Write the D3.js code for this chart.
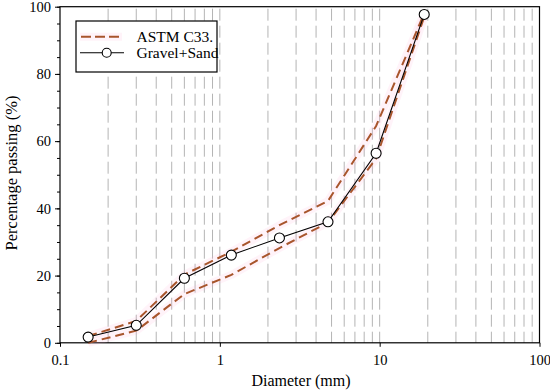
<!DOCTYPE html>
<html><head><meta charset="utf-8">
<script src="https://cdn.jsdelivr.net/npm/d3@7"></script>
<style>body{margin:0;background:#fff}svg{display:block}</style>
</head><body><svg id="c" width="550" height="391"></svg>
<script>
const sieves = [0.15, 0.3, 0.6, 1.18, 2.36, 4.75, 9.5, 19];
const gravelSand = [1.7, 5.2, 19.2, 26.1, 31.2, 36, 56.4, 97.7];
const astmUpper = [2, 6.5, 20.3, 27.1, 35, 42.2, 64.5, 98];
const astmLower = [0, 3.6, 14.5, 20.2, 28.2, 35.8, 54.8, 97];
const xTicks = [0.1, 1, 10, 100];
const xTickLabels = ["0.1", "1", "10", "100"];
const yTicks = [0, 20, 40, 60, 80, 100];
const seriesNames = ["ASTM C33.", "Gravel+Sand"];

const svg = d3.select("#c");
const L = 60, R = 539.5, T = 6.7, B = 342.8;
const x = d3.scaleLog().domain([0.1, 100]).range([L, R]);
const y = d3.scaleLinear().domain([0, 100]).range([B, T]);
const font = "'Liberation Serif','Times New Roman',Times,serif";

// grid
const grid = [];
[0.1, 1, 10].forEach(d => { for (let k = 2; k <= 10; k++) grid.push(+(d * k).toPrecision(3)); });
svg.append("g").selectAll("line").data(grid.filter(v => v < 100)).join("line")
  .attr("x1", d => x(d)).attr("x2", d => x(d)).attr("y1", T + 2).attr("y2", B)
  .attr("stroke", "#b4b4b4").attr("stroke-width", 1).attr("stroke-dasharray", "12,5");

// axes
const xAxis = d3.axisBottom(x).tickValues(xTicks).tickFormat((d,i) => xTickLabels[i]).tickSizeOuter(0).tickSize(4);
const gx = svg.append("g").attr("transform", `translate(0,${B})`).call(xAxis);
gx.select(".domain").remove();
gx.selectAll("text").attr("font-family", font).attr("font-size", 14.5).attr("fill", "#000").attr("dy", "1.05em");
gx.selectAll("line").attr("stroke", "#000");

const yAxisMinor = d3.axisLeft(y).tickValues(d3.range(0, 101, 5)).tickFormat("").tickSize(3).tickSizeOuter(0);
const gy2 = svg.append("g").attr("transform", `translate(${L},0)`).call(yAxisMinor);
gy2.select(".domain").remove();
gy2.selectAll("line").attr("stroke", "#000");
const yAxis = d3.axisLeft(y).tickValues(yTicks).tickSize(5).tickPadding(4).tickSizeOuter(0);
const gy = svg.append("g").attr("transform", `translate(${L},0)`).call(yAxis);
gy.select(".domain").remove();
gy.selectAll("text").attr("font-family", font).attr("font-size", 14.5).attr("fill", "#000");
gy.selectAll("line").attr("stroke", "#000");

// frame
svg.append("rect").attr("x", L).attr("y", T).attr("width", R - L).attr("height", B - T)
  .attr("fill", "none").attr("stroke", "#000").attr("stroke-width", 1.2);

// ASTM lines
const line = vals => d3.line().x((d,i) => x(sieves[i])).y(d => y(d))(vals);
const red = "#a8552c";
[astmUpper, astmLower].forEach(v => {
  svg.append("path").attr("d", line(v)).attr("fill", "none").attr("stroke", "#ffa8d8")
    .attr("stroke-opacity", 0.14).attr("stroke-width", 8).attr("stroke-linejoin", "round");
});
[astmUpper, astmLower].forEach(v => {
  svg.append("path").attr("d", line(v)).attr("fill", "none").attr("stroke", red)
    .attr("stroke-width", 2).attr("stroke-dasharray", "9,5");
});

// Gravel+Sand
svg.append("path").attr("d", line(gravelSand)).attr("fill", "none").attr("stroke", "#000").attr("stroke-width", 1.1);
svg.append("g").selectAll("circle").data(gravelSand).join("circle")
  .attr("cx", (d,i) => x(sieves[i])).attr("cy", d => y(d)).attr("r", 5)
  .attr("fill", "#fff").attr("stroke", "#000").attr("stroke-width", 1.1);

// legend
const lg = svg.append("g");
lg.append("rect").attr("x", 76).attr("y", 21).attr("width", 141).attr("height", 51)
  .attr("fill", "#fff").attr("stroke", "#000").attr("stroke-width", 1.2);
lg.append("line").attr("x1", 80).attr("x2", 122).attr("y1", 36.7).attr("y2", 36.7)
  .attr("stroke", "#ffa8d8").attr("stroke-opacity", 0.14).attr("stroke-width", 8);
lg.append("line").attr("x1", 81).attr("x2", 122).attr("y1", 36.7).attr("y2", 36.7)
  .attr("stroke", red).attr("stroke-width", 2).attr("stroke-dasharray", "10,4");
lg.append("line").attr("x1", 80).attr("x2", 124).attr("y1", 52.7).attr("y2", 52.7)
  .attr("stroke", "#000").attr("stroke-width", 1.1);
lg.append("circle").attr("cx", 106.7).attr("cy", 52.7).attr("r", 4.5)
  .attr("fill", "#fff").attr("stroke", "#000").attr("stroke-width", 1.1);
lg.selectAll("text.l").data(seriesNames).join("text").attr("class", "l")
  .attr("x", 136.5).attr("y", (d,i) => 41.8 + i * 16).text(d => d)
  .attr("font-family", font).attr("font-size", 15.5).attr("fill", "#000");

// axis titles
svg.append("text").attr("x", 301).attr("y", 386).attr("text-anchor", "middle")
  .attr("font-family", font).attr("font-size", 16).text("Diameter (mm)");
svg.append("text").attr("transform", "translate(16.5,173) rotate(-90)").attr("text-anchor", "middle")
  .attr("font-family", font).attr("font-size", 16.5).text("Percentage passing (%)");
</script></body></html>
